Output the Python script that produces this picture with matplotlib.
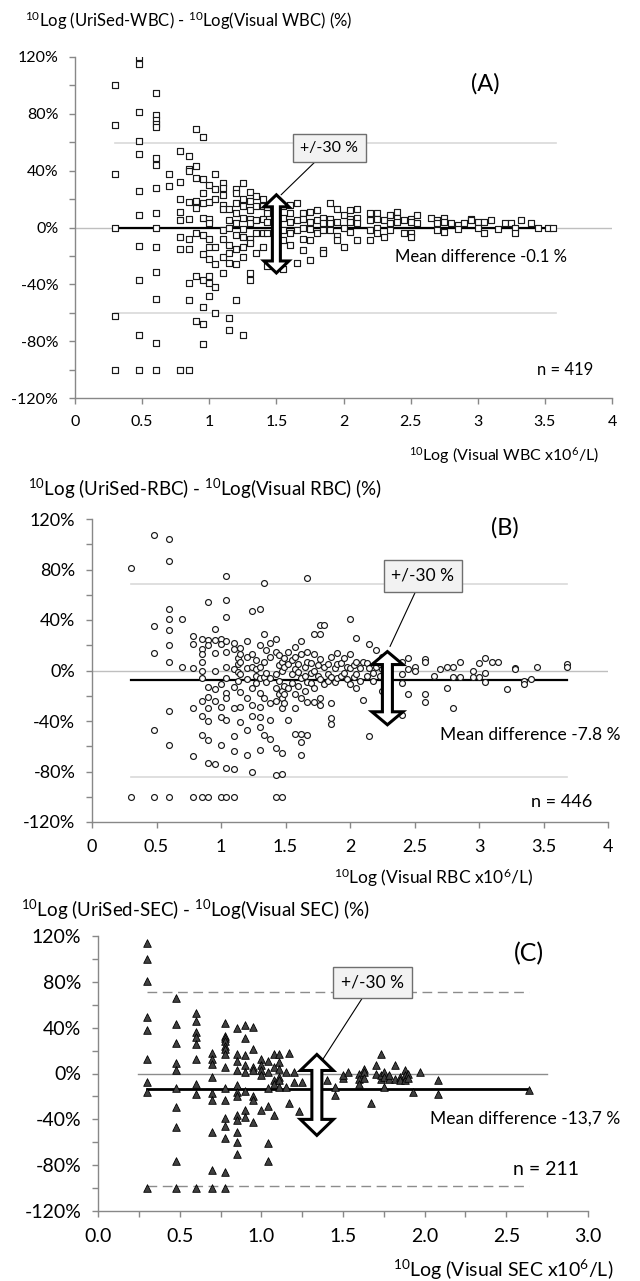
import numpy as np
import matplotlib
matplotlib.use("Agg")
import matplotlib.pyplot as plt
from matplotlib.patches import Polygon
from matplotlib.ticker import MultipleLocator, FuncFormatter

plt.rcParams['font.family'] = ['Lato', 'DejaVu Sans']
plt.rcParams['mathtext.fontset'] = 'custom'
plt.rcParams['mathtext.rm'] = 'Lato'
plt.rcParams['mathtext.default'] = 'regular'

# ---- data ----
# (A) WBC: x column positions and the y values (%) found at each
wbc_x = [0.30, 0.48, 0.60, 0.70, 0.78, 0.85, 0.90, 0.95, 1.00, 1.04, 1.10, 1.15, 1.20,
         1.25, 1.30, 1.35, 1.40, 1.43, 1.50, 1.55, 1.60, 1.65, 1.70, 1.75, 1.80, 1.85,
         1.90, 1.95, 2.00, 2.05, 2.10, 2.20, 2.25, 2.30, 2.35, 2.40, 2.45, 2.50, 2.55,
         2.65, 2.70, 2.75, 2.80, 2.85, 2.90, 2.95, 3.00, 3.05, 3.10, 3.15, 3.20, 3.25,
         3.28, 3.32, 3.40, 3.45, 3.52, 3.56]
wbc_y = [[100, 72, 38, 0, -62, -100],
         [120, 115, 81, 61, 52, 26, 9, -13, -37, -76, -100],
         [95, 79, 76, 73, 71, 49, 44, 28, 10, 0, -14, -31, -50, -81, -100],
         [38, 29],
         [54, 32, 20, 11, 5, -7, -15, -100],
         [50, 41, 40, 18, 6, -8, -15, -39, -51, -100],
         [69, 43, 35, 19, 14, -4, -34, -66],
         [64, 34, 24, 17, 7, -5, -19, -37, -56, -68, -82],
         [30, 18, 6, 3, -8, -14, -22, -34, -39, -48],
         [38, 27, 20, -14, -26, -42, -60],
         [31, 28, 23, 16, 13, -2, -8, -21, -32],
         [13, 5, 0, -12, -18, -25, -64, -72],
         [27, 24, 17, 10, 3, -5, -15, -26, -51],
         [31, 20, 15, 7, -1, -7, -14, -21, -76],
         [25, 19, 12, 6, 3, -8, -11, -32, -37],
         [22, 15, 5, -4, -18],
         [20, 15, 6, -4, -14],
         [14, 10, 4, -4, -27],
         [15, 10],
         [15, 7, -2, -9, -29],
         [16, 10, 4, -4, -12],
         [17, 5, -2, -25],
         [10, 6, 0, -8, -16],
         [11, 4, -1, -9, -23],
         [12, 5, -4],
         [7, 3, -2, -16, -18],
         [17, 6, 3, -2],
         [13, 4, -6, -9],
         [9, 0, -14],
         [12, 6, 4, -3],
         [13, 7, 3, -9],
         [10, 5, -2, -9],
         [10, 6, 0, -4],
         [5, -7],
         [9, 3, -2],
         [11, 7, 4],
         [5, -4],
         [6, 4, -4, -7],
         [9, 3],
         [7],
         [5, 3, -2],
         [7, 4, -3],
         [3],
         [2, -1],
         [3],
         [6, 5],
         [4, 0],
         [4, -4],
         [5],
         [-1],
         [3],
         [3],
         [0, -4],
         [5],
         [3],
         [0],
         [0],
         [0]]
wbc_mean = -0.1
wbc_limits = [59.5, -60]
wbc_n = 419

# (B) RBC
rbc_x = [0.30, 0.48, 0.60, 0.70, 0.78, 0.85, 0.90, 0.95, 1.00, 1.04, 1.10, 1.13, 1.15,
         1.20, 1.24, 1.27, 1.30, 1.33, 1.35, 1.38, 1.43, 1.45, 1.47, 1.49, 1.52, 1.55,
         1.57, 1.60, 1.62, 1.65, 1.67, 1.70, 1.72, 1.75, 1.77, 1.80, 1.83, 1.85, 1.88,
         1.90, 1.93, 1.95, 1.98, 2.00, 2.03, 2.05, 2.08, 2.10, 2.13, 2.15, 2.18, 2.20,
         2.23, 2.25, 2.40, 2.45, 2.50, 2.58, 2.65, 2.70, 2.75, 2.80, 2.85, 2.95, 3.00,
         3.05, 3.10, 3.15, 3.22, 3.28, 3.35, 3.40, 3.45, 3.68]
rbc_y = [[81, -100],
         [107, 35, 14, -47, -100],
         [104, 87, 49, 41, 32, 20, 7, -32, -59, -100],
         [41, 3],
         [27, 21, 2, -30, -68, -100],
         [25, 17, 13, 7, 0, -6, -24, -36, -51, -100],
         [54, 24, 20, -13, -21, -30, -40, -55, -73, -100],
         [33, 24, 14, 0, -15, -24, -74],
         [25, 21, -11, -29, -37, -59, -100],
         [75, 56, 42, 23, 15, 3, -6, -18, -22, -39, -77, -100],
         [22, 17, 1, -13, -30, -52, -64, -78, -100],
         [10, 5, -1, -8],
         [18, 13, 7, -3, -17, -29, -41],
         [23, 11, 2, -7, -22, -47, -67],
         [47, 13, 3, -14, -27, -36, -80],
         [8, 1, -4, -10],
         [49, 20, 3, -6, -18, -29, -37, -45, -63],
         [69, 29, 7, -5, -22, -51],
         [16, -2, -9],
         [22, 11, -6, -26, -39, -54],
         [25, 15, -3, -14, -24, -61, -83, -100],
         [12, 4, -8, -19],
         [7, 0, -16, -22, -30, -65, -82, -100],
         [10, 3, -12, -19, -26],
         [15, 5, -14, -39],
         [8, -3, -10],
         [19, 11, 1, -19, -30, -50],
         [5, -1, -12],
         [23, 13, -6, -22, -50, -57, -67],
         [3, -4, -16],
         [73, 15, 7, -9, -25, -51],
         [6, -2, -10],
         [29, 13, 0, -14, -25],
         [4, -4],
         [36, 29, 9, -7, -22, -27],
         [36, 3, -11],
         [5, -3, -8],
         [11, -5, -26, -38, -42],
         [2, -9],
         [14, 5, -6],
         [6, -4],
         [10, -2],
         [3, -7],
         [41, 13, 2, -11],
         [4, -5],
         [26, 7, -3, -14],
         [2, -8],
         [7, -23],
         [6, -4],
         [21, 2, -52],
         [-2, -8],
         [16, 3],
         [5, -4],
         [11, 1, -16],
         [7, -3, -10, -35],
         [10, 1, -19],
         [3, 0],
         [9, 7, -19, -25],
         [-4],
         [1],
         [3, -14],
         [3, -5, -30],
         [7, -5],
         [-5, 0],
         [6, -5],
         [10, -2, -9],
         [7],
         [7],
         [-15],
         [2, 1],
         [-8, -11],
         [-7],
         [3],
         [5, 3]]
rbc_mean = -7.8
rbc_limits = [68.5, -84.5]
rbc_n = 446

# (C) SEC
sec_x = [0.30, 0.48, 0.60, 0.70, 0.78, 0.85, 0.90, 0.95, 1.00, 1.04, 1.08, 1.11, 1.15,
         1.17, 1.20, 1.23, 1.25, 1.40, 1.45, 1.50, 1.53, 1.60, 1.63, 1.67, 1.70, 1.73,
         1.75, 1.78, 1.82, 1.85, 1.88, 1.90, 1.93, 1.97, 2.08, 2.64]
sec_y = [[114, 100, 81, 49, 38, 13, -7, -16, -100],
         [66, 43, 27, 9, 3, -13, -29, -47, -76, -100],
         [53, 46, 36, 32, 26, 13, -9, -18, -100],
         [18, 13, 8, -3, -17, -23, -51, -84, -100],
         [44, 33, 31, 28, 24, 21, 17, 6, -13, -23, -39, -46, -56, -86, -100],
         [40, 17, 11, 3, -10, -16, -20, -36, -41, -51, -60, -70],
         [42, 31, 16, 7, 1, -15, -32, -38],
         [41, 21, 6, 3, -20, -23, -42],
         [13, 7, 3, -1, -32],
         [11, 1, -13, -28, -61, -76],
         [17, 6, -6, -9, -36],
         [17, 10, 4, -3, -6, -12],
         [1, -12],
         [18, -26],
         [1, -7],
         [-33],
         [-7],
         [-6],
         [-12, -19],
         [-4, -1],
         [1],
         [0, -5, -9],
         [4, 1, -4],
         [-26],
         [7, 0],
         [17, -5, -1],
         [1, -3, -12],
         [-5, -1],
         [7, -5],
         [-3, -6],
         [3, -1, -6],
         [0, -4],
         [-16],
         [1],
         [-6, -18],
         [-14]]
sec_mean = -13.7
sec_limits = [70.8, -98.2]
sec_n = 211


def flatten(xs, ys):
    x = np.repeat(xs, [len(v) for v in ys])
    y = np.concatenate([np.array(v, dtype=float) for v in ys])
    return x, y


def style_axis(ax, xmax, xstep, xminor, xfmt, fs):
    ax.set_ylim(-120, 120)
    ax.set_xlim(0, xmax)
    ax.yaxis.set_major_locator(MultipleLocator(40))
    ax.yaxis.set_minor_locator(MultipleLocator(20))
    ax.yaxis.set_major_formatter(FuncFormatter(lambda v, p: f"{v:.0f}%"))
    ax.xaxis.set_major_locator(MultipleLocator(xstep))
    if xminor:
        ax.xaxis.set_minor_locator(MultipleLocator(xminor))
    ax.xaxis.set_major_formatter(FuncFormatter(xfmt))
    for s in ['top', 'right']:
        ax.spines[s].set_visible(False)
    for s in ['left', 'bottom']:
        ax.spines[s].set_color('#888888')
        ax.spines[s].set_linewidth(1.0)
    ax.tick_params(which='both', direction='out', length=4, width=1.0,
                   color='#888888', labelsize=fs)
    ax.tick_params(axis='y', pad=8)
    ax.tick_params(axis='x', pad=8)


def double_arrow(ax, x, top, bottom, head_px, shaft_px, head_len_px):
    fig = ax.figure
    pos = ax.get_position()
    w_px = pos.width * fig.bbox.width
    h_px = pos.height * fig.bbox.height
    x0, x1 = ax.get_xlim()
    y0, y1 = ax.get_ylim()
    dx = (x1 - x0) / w_px
    dy = (y1 - y0) / h_px
    hw = head_px / 2 * dx
    sw = shaft_px / 2 * dx
    hl = head_len_px * dy
    verts = [(x, top), (x + hw, top - hl), (x + sw, top - hl), (x + sw, bottom + hl),
             (x + hw, bottom + hl), (x, bottom), (x - hw, bottom + hl),
             (x - sw, bottom + hl), (x - sw, top - hl), (x - hw, top - hl)]
    ax.add_patch(Polygon(verts, closed=True, facecolor='white', edgecolor='black',
                         linewidth=2.2, joinstyle='miter', zorder=6))


def box_label(ax, xy, xytext, fs):
    ax.annotate("+/-30 %", xy=xy, xytext=xytext, fontsize=fs, ha='center', va='center',
                bbox=dict(boxstyle='square,pad=0.45', fc='#f2f2f2', ec='#6f6f6f', lw=1.0),
                arrowprops=dict(arrowstyle='-', color='black', lw=0.8,
                                shrinkA=0, shrinkB=0),
                zorder=7)


fig = plt.figure(figsize=(6.4, 12.81), dpi=100)
H = 1281.0

# ---------------- Panel A ----------------
axA = fig.add_axes([75 / 640, (H - 398) / H, (612 - 75) / 640, (398 - 57) / H])
style_axis(axA, 4, 0.5, None, lambda v, p: f"{v:g}", 11.5)
x, y = flatten(wbc_x, wbc_y)
axA.plot([0, 4], [0, 0], color='#bfbfbf', lw=1.0, zorder=1)
for lim in wbc_limits:
    axA.plot([x.min(), x.max() + 0.02], [lim, lim], color='#d9d9d9', lw=1.2, zorder=1)
axA.plot([x.min(), x.max()], [wbc_mean, wbc_mean], color='black', lw=1.6, zorder=2)
axA.scatter(x, y, marker='s', s=14, facecolors='white', edgecolors='#1a1a1a',
            linewidths=0.85, zorder=3)
double_arrow(axA, 1.5, 23, -32, 25, 8, 12)
box_label(axA, (1.535, 23), (1.895, 56), 11.5)
axA.text(3.06, 101, "(A)", fontsize=17, ha='center', va='center')
axA.text(2.38, -21, f"Mean difference {wbc_mean} %", fontsize=12, ha='left', va='center')
axA.text(3.44, -100, f"n = {wbc_n}", fontsize=12, ha='left', va='center')
fig.text(25 / 640, 1 - 21 / H, r"$^{10}$Log (UriSed-WBC) - $^{10}$Log(Visual WBC) (%)",
         fontsize=12, ha='left', va='center')
fig.text(599 / 640, 1 - 456 / H, r"$^{10}$Log (Visual WBC x10$^{6}$/L)",
         fontsize=11.5, ha='right', va='center')

# ---------------- Panel B ----------------
axB = fig.add_axes([92 / 640, (H - 822) / H, (608 - 92) / 640, (822 - 519) / H])
style_axis(axB, 4, 0.5, None, lambda v, p: f"{v:g}", 13)
x, y = flatten(rbc_x, rbc_y)
axB.plot([0, 4], [0, 0], color='#bfbfbf', lw=1.0, zorder=1)
for lim in rbc_limits:
    axB.plot([x.min(), x.max()], [lim, lim], color='#d9d9d9', lw=1.2, zorder=1)
axB.plot([x.min(), x.max()], [rbc_mean, rbc_mean], color='black', lw=1.6, zorder=2)
axB.scatter(x, y, marker='o', s=18, facecolors='white', edgecolors='#1a1a1a',
            linewidths=0.85, zorder=3)
double_arrow(axB, 2.29, 15, -43, 31, 10, 13)
box_label(axB, (2.31, 19), (2.565, 75), 12.5)
axB.text(3.2, 113, "(B)", fontsize=17, ha='center', va='center')
axB.text(2.7, -51, f"Mean difference {rbc_mean} %", fontsize=12.5, ha='left', va='center')
axB.text(3.4, -104, f"n = {rbc_n}", fontsize=13, ha='left', va='center')
fig.text(28 / 640, 1 - 489 / H, r"$^{10}$Log (UriSed-RBC) - $^{10}$Log(Visual RBC) (%)",
         fontsize=13.5, ha='left', va='center')
fig.text(533 / 640, 1 - 878 / H, r"$^{10}$Log (Visual RBC x10$^{6}$/L)",
         fontsize=12.5, ha='right', va='center')

# ---------------- Panel C ----------------
axC = fig.add_axes([98 / 640, (H - 1211) / H, (588 - 98) / 640, (1211 - 936) / H])
style_axis(axC, 3, 0.5, 0.25, lambda v, p: f"{v:.1f}", 14)
x, y = flatten(sec_x, sec_y)
axC.plot([0.245, 2.75], [0, 0], color='#8c8c8c', lw=1.0, zorder=1)
for lim in sec_limits:
    axC.plot([x.min(), x.max()], [lim, lim], color='#8c8c8c', lw=1.0,
             dashes=(7, 4), zorder=1)
axC.plot([x.min(), x.max()], [sec_mean, sec_mean], color='black', lw=2.0, zorder=2)
axC.scatter(x, y, marker='^', s=30, facecolors='#404040', edgecolors='black',
            linewidths=0.6, zorder=3)
double_arrow(axC, 1.34, 16.6, -54, 33, 10, 16)
box_label(axC, (1.375, 12), (1.68, 79.5), 12.5)
axC.text(2.64, 105, "(C)", fontsize=18, ha='center', va='center')
axC.text(2.03, -39, "Mean difference -13,7 %", fontsize=12.5, ha='left', va='center')
axC.text(2.54, -84, f"n = {sec_n}", fontsize=14, ha='left', va='center')
fig.text(21 / 640, 1 - 910 / H, r"$^{10}$Log (UriSed-SEC) - $^{10}$Log(Visual SEC) (%)",
         fontsize=13.5, ha='left', va='center')
fig.text(613 / 640, 1 - 1270 / H, r"$^{10}$Log (Visual SEC x10$^{6}$/L)",
         fontsize=14, ha='right', va='center')

fig.savefig("out.png", dpi=100)
